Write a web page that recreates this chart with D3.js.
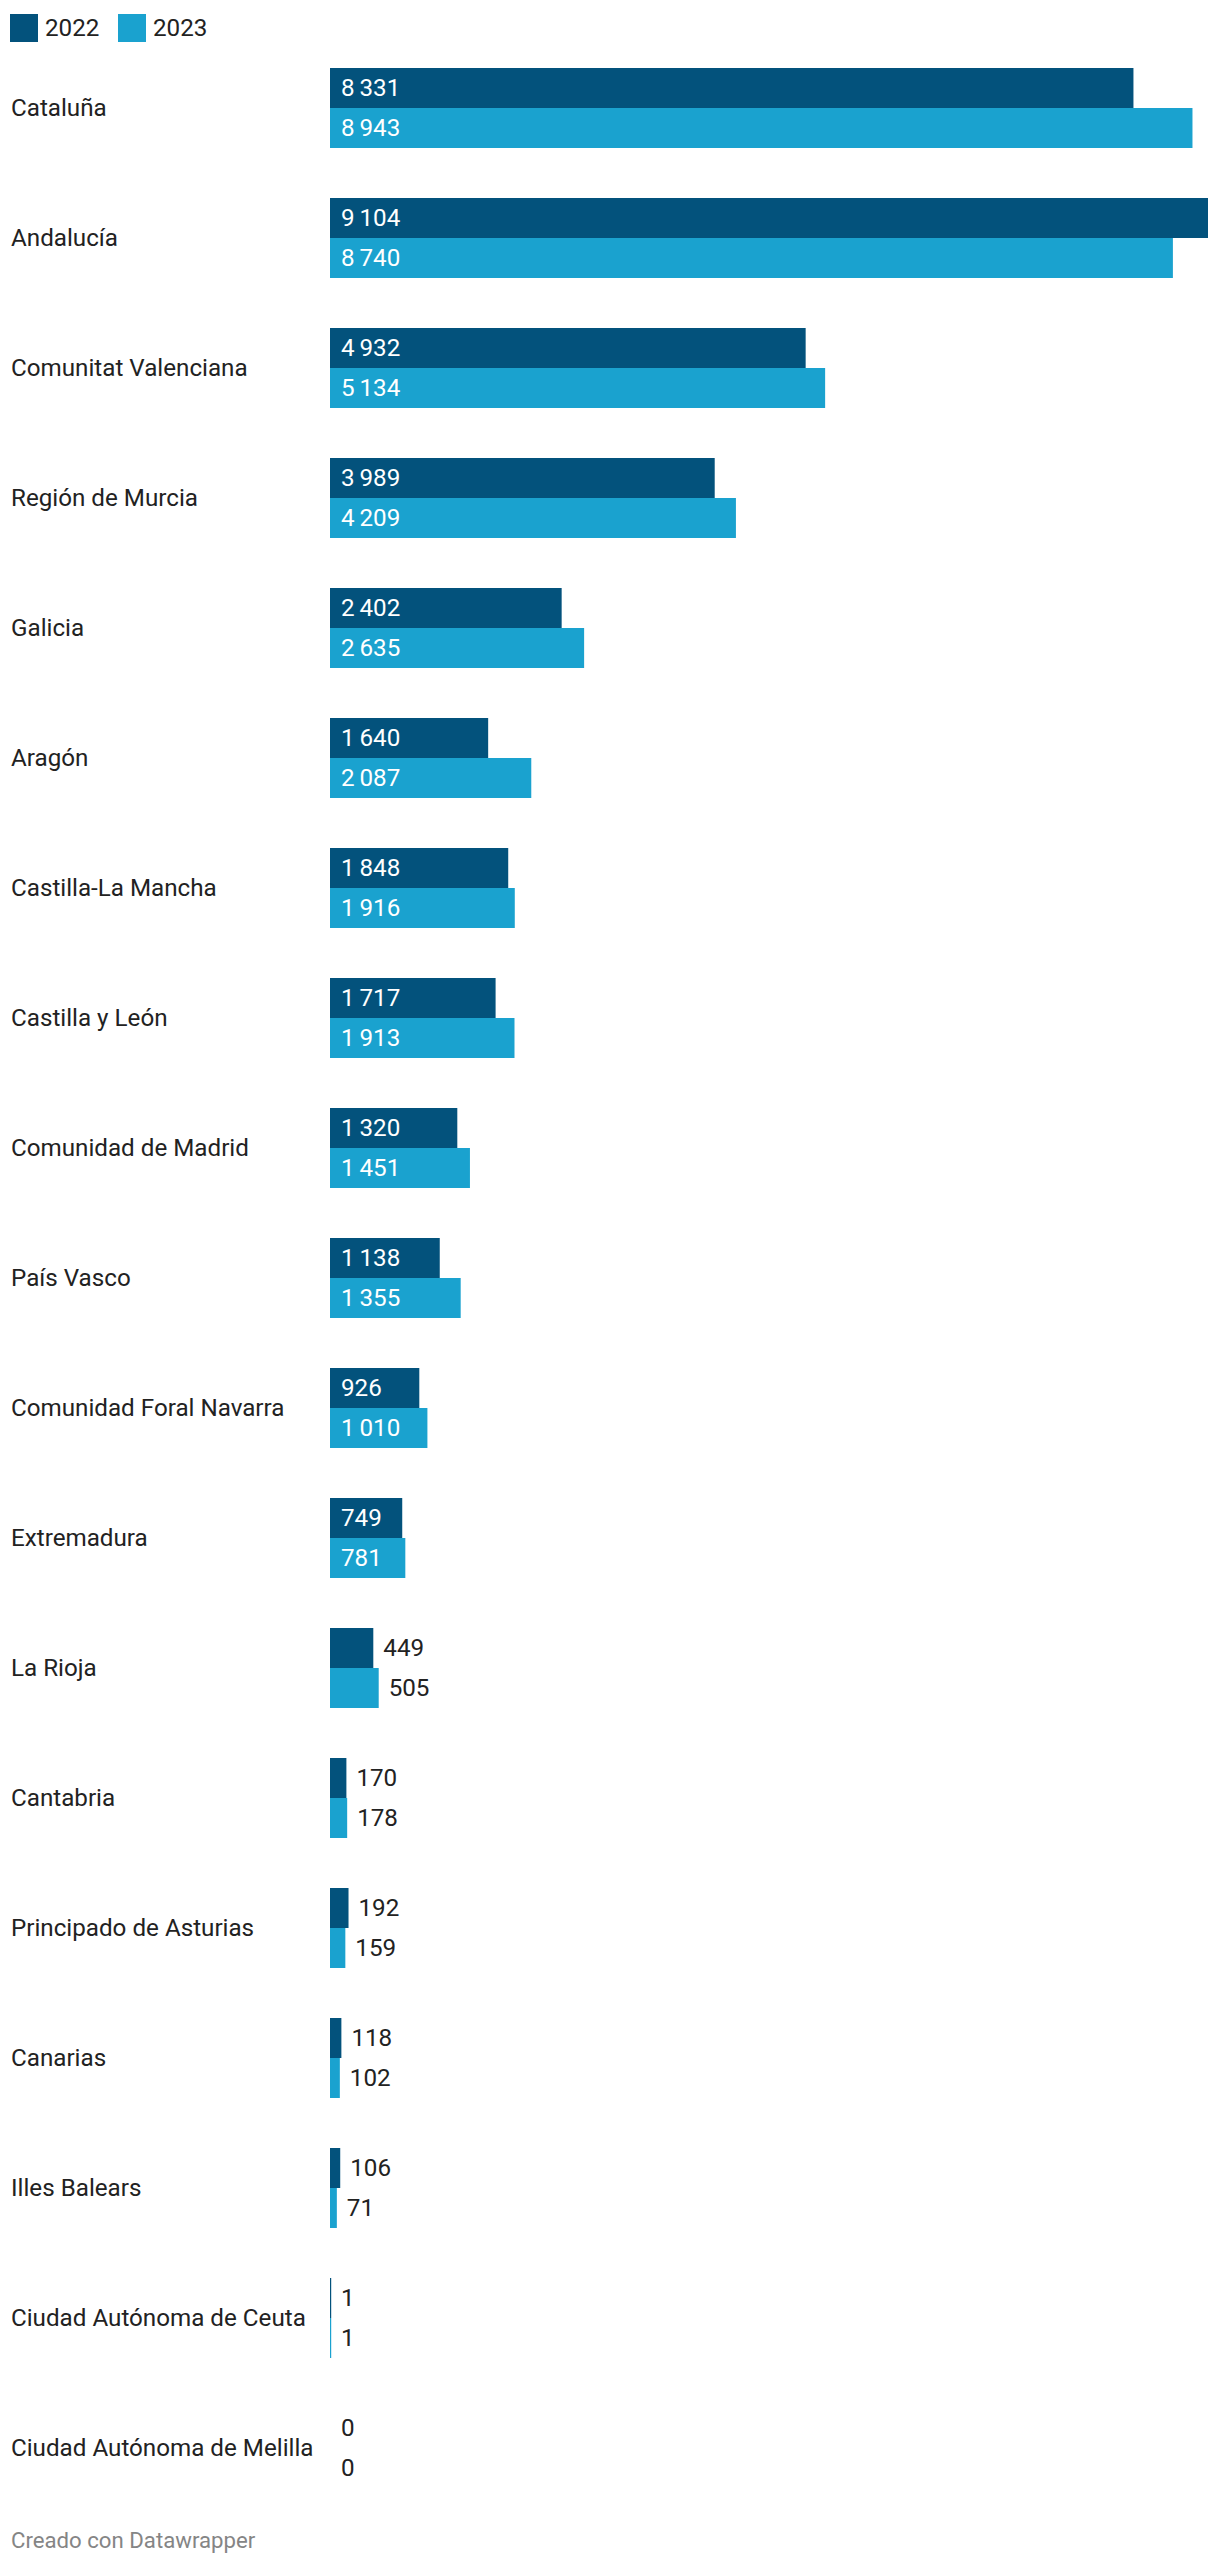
<!DOCTYPE html>
<html>
<head>
<meta charset="utf-8">
<script src="https://cdn.jsdelivr.net/npm/d3@7"></script>
<style>
  html, body { margin: 0; padding: 0; background: #fff; }
  svg { display: block; font-family: Roboto, "Noto Sans", sans-serif; }
</style>
</head>
<body>
<svg id="chart" width="1220" height="2566"></svg>
<script>
const categories = [
  "Cataluña", "Andalucía", "Comunitat Valenciana", "Región de Murcia", "Galicia",
  "Aragón", "Castilla-La Mancha", "Castilla y León", "Comunidad de Madrid", "País Vasco",
  "Comunidad Foral Navarra", "Extremadura", "La Rioja", "Cantabria", "Principado de Asturias",
  "Canarias", "Illes Balears", "Ciudad Autónoma de Ceuta", "Ciudad Autónoma de Melilla"
];
const seriesNames = ["2022", "2023"];
const values2022 = [8331, 9104, 4932, 3989, 2402, 1640, 1848, 1717, 1320, 1138, 926, 749, 449, 170, 192, 118, 106, 1, 0];
const values2023 = [8943, 8740, 5134, 4209, 2635, 2087, 1916, 1913, 1451, 1355, 1010, 781, 505, 178, 159, 102, 71, 1, 0];
const colors = ["#03527c", "#1aa2cf"];
const footerText = "Creado con Datawrapper";

const svg = d3.select("#chart");
const fontSize = 24.2;
const fmt = d3.formatLocale({decimal: ",", thousands: "\u2009", grouping: [3], currency: ["", "€"]}).format(",d");

const seriesValues = [values2022, values2023];
const data = categories.map((c, i) => ({
  cat: c,
  vals: seriesNames.map((s, j) => ({ series: s, idx: j, value: seriesValues[j][i] }))
}));

const x = d3.scaleLinear().domain([0, d3.max([...values2022, ...values2023])]).range([330, 1208]);
const y = d3.scaleBand().domain(categories).range([68, 2488]).paddingInner(50 / 130).paddingOuter(0);
const ySub = d3.scaleBand().domain(seriesNames).range([0, y.bandwidth()]);
const color = d3.scaleOrdinal().domain(seriesNames).range(colors);

// Legend
const legend = svg.append("g");
const legendX = [10, 118];
seriesNames.forEach((s, i) => {
  legend.append("rect").attr("x", legendX[i]).attr("y", 14).attr("width", 28).attr("height", 28).attr("fill", color(s));
  legend.append("text").attr("x", legendX[i] + 35).attr("y", 28).attr("dy", "0.35em")
    .attr("font-size", fontSize).attr("fill", "#222").text(s);
});

// Groups
const groups = svg.append("g").selectAll("g").data(data).join("g")
  .attr("transform", d => `translate(0,${y(d.cat)})`);

groups.append("text")
  .attr("x", 11).attr("y", y.bandwidth() / 2).attr("dy", "0.35em")
  .attr("font-size", fontSize).attr("fill", "#222")
  .text(d => d.cat);

const bars = groups.selectAll("g.bar").data(d => d.vals).join("g").attr("class", "bar");

bars.append("rect")
  .attr("x", x(0))
  .attr("y", d => ySub(d.series))
  .attr("height", ySub.bandwidth())
  .attr("width", d => d.value > 0 ? Math.max(1.2, x(d.value) - x(0)) : 0)
  .attr("fill", d => color(d.series));

bars.append("text")
  .attr("y", d => ySub(d.series) + ySub.bandwidth() / 2)
  .attr("dy", "0.35em")
  .attr("font-size", fontSize)
  .text(d => fmt(d.value))
  .each(function(d) {
    const t = d3.select(this);
    const tw = this.getComputedTextLength();
    const bw = x(d.value) - x(0);
    const pad = 11;
    if (bw > tw + 2 * pad) {
      t.attr("x", x(0) + pad).attr("fill", "#fff");
    } else {
      t.attr("x", x(0) + Math.max(bw, 1) + 10).attr("fill", "#222");
    }
  });

// Footer
svg.append("text").attr("x", 11).attr("y", 2548)
  .attr("font-size", 22.2).attr("fill", "#858585").text(footerText);
</script>
</body>
</html>
